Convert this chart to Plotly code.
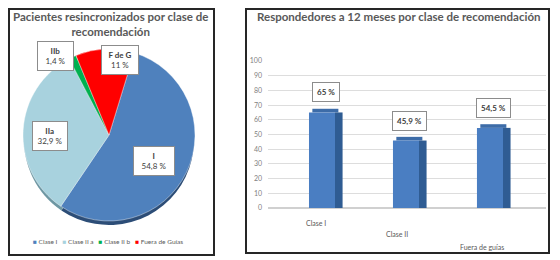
import plotly.graph_objects as go

# ---- data ----
pie_labels = ["Clase I", "Clase II a", "Clase II b", "Fuera de Guías"]
pie_values = [54.8, 32.9, 1.4, 11]
pie_short = ["I", "IIa", "IIb", "F de G"]
pie_text = ["54,8 %", "32,9 %", "1,4 %", "11 %"]
pie_colors = ["#4F81BD", "#A8D2DE", "#00B050", "#FF0000"]
pie_shadow_colors = ["#2C4D77", "#6E97A3", "#00703A", "#A00000"]

bar_cats = ["Clase I", "Clase II", "Fuera de guías"]
bar_values = [65, 45.9, 54.5]
bar_text = ["65 %", "45,9 %", "54,5 %"]
y_ticks = [0, 10, 20, 30, 40, 50, 60, 70, 80, 90, 100]

# page has an 8px body margin: figure occupies the remaining area
OFF = 8
W, H = 560 - OFF, 260 - OFF
FONT = "Lato"
GRAY = "#595959"

def px(x):
    return (x - OFF) / W

def py(y):
    return 1 - (y - OFF) / H

fig = go.Figure()

# pie rim (3D look) behind the pie
fig.add_trace(go.Pie(
    labels=pie_labels, values=pie_values, sort=False, direction="clockwise",
    rotation=17, textinfo="none", hoverinfo="skip",
    marker=dict(colors=pie_shadow_colors, line=dict(width=0)),
    domain=dict(x=[px(24), px(194)], y=[py(225), py(55)]),
    showlegend=False,
))
# pie
fig.add_trace(go.Pie(
    labels=pie_labels, values=pie_values, sort=False, direction="clockwise",
    rotation=17, textinfo="none", hoverinfo="label+percent",
    marker=dict(colors=pie_colors, line=dict(color="#FFFFFF", width=0.4)),
    domain=dict(x=[px(23), px(195)], y=[py(221), py(49)]),
    showlegend=False,
))

# bars: top face (thin cap), front face and side face
TOP_DEPTH = 2.5
fig.add_trace(go.Bar(
    x=bar_cats, y=[TOP_DEPTH] * len(bar_values), base=bar_values,
    width=0.31, offset=-0.115,
    marker=dict(color="#3D6CA8", line=dict(width=0)),
    showlegend=False, xaxis="x", yaxis="y", hoverinfo="skip",
))
fig.add_trace(go.Bar(
    x=bar_cats, y=bar_values, width=0.31, offset=-0.155,
    marker=dict(color="#4A7EC2", line=dict(width=0)),
    showlegend=False, xaxis="x", yaxis="y",
))
fig.add_trace(go.Bar(
    x=bar_cats, y=bar_values, width=0.09, offset=0.155,
    marker=dict(color="#2F5C93", line=dict(width=0)),
    showlegend=False, xaxis="x", yaxis="y", hoverinfo="skip",
))

annotations = []
# pie label boxes (paper positions)
pie_label_pos = {"I": (154, 161), "IIa": (50, 136), "IIb": (55, 56), "F de G": (120, 60)}
pie_box_w = {"I": 42, "IIa": 36, "IIb": 37, "F de G": 38}
for s, t in zip(pie_short, pie_text):
    cx, cy = pie_label_pos[s]
    annotations.append(dict(
        x=px(cx), y=py(cy), xref="paper", yref="paper", showarrow=False,
        text=f"<b>{s}</b><br>{t}", align="center",
        font=dict(family=FONT, size=8, color="#404040"),
        bgcolor="#FFFFFF", bordercolor="#8C8C8C", borderwidth=1, borderpad=4,
        width=pie_box_w[s] - 10, xanchor="center", yanchor="middle",
    ))

# legend built as text with coloured markers
legend_text = "   ".join(
    f'<span style="color:{c}">■</span> {l}' for l, c in zip(pie_labels, pie_colors)
)
annotations.append(dict(
    x=px(108), y=py(241), xref="paper", yref="paper", showarrow=False,
    text=legend_text, font=dict(family=FONT, size=6.5, color=GRAY),
    xanchor="center", yanchor="middle",
))

# bar value boxes
for c, v, t in zip(bar_cats, bar_values, bar_text):
    annotations.append(dict(
        x=c, y=v, xref="x", yref="y", showarrow=False, text=f"<b>{t}</b>",
        font=dict(family=FONT, size=8, color="#404040"),
        bgcolor="#FFFFFF", bordercolor="#8C8C8C", borderwidth=1, borderpad=4,
        xanchor="center", yanchor="bottom", yshift=10, xshift=4,
    ))

# staggered category labels (perspective look)
cat_y = [223, 234, 247]
cat_shift = [-6, -9, -8]
for c, yy, sh in zip(bar_cats, cat_y, cat_shift):
    annotations.append(dict(
        x=c, y=py(yy), xref="x", yref="paper", showarrow=False, text=c,
        font=dict(family=FONT, size=7, color=GRAY), xanchor="center",
        yanchor="middle", xshift=sh,
    ))

# titles
annotations.append(dict(
    x=px(110), y=py(24), xref="paper", yref="paper", showarrow=False,
    text="<b>Pacientes resincronizados por clase de<br>recomendación</b>",
    font=dict(family=FONT, size=11.5, color=GRAY), align="center",
    xanchor="center", yanchor="middle",
))
annotations.append(dict(
    x=px(398), y=py(17), xref="paper", yref="paper", showarrow=False,
    text="<b>Respondedores a 12 meses por clase de recomendación</b>",
    font=dict(family=FONT, size=11.5, color=GRAY),
    xanchor="center", yanchor="middle",
))

shapes = [
    dict(type="rect", xref="paper", yref="paper", x0=px(9), x1=px(214),
         y0=py(255), y1=py(9), line=dict(color="#262626", width=2)),
    dict(type="rect", xref="paper", yref="paper", x0=px(246), x1=px(549),
         y0=py(253), y1=py(9), line=dict(color="#262626", width=2)),
]

fig.update_layout(
    width=W, height=H, margin=dict(l=0, r=0, t=0, b=0, autoexpand=False),
    paper_bgcolor="#FFFFFF", plot_bgcolor="#FFFFFF",
    barmode="overlay",
    font=dict(family=FONT, color=GRAY),
    xaxis=dict(domain=[px(268), px(546)], range=[-0.643, 2.667],
               showticklabels=False, showgrid=False, zeroline=False,
               showline=False, fixedrange=True),
    yaxis=dict(domain=[py(208), py(61)], range=[0, 100], tickvals=y_ticks,
               tickfont=dict(family=FONT, size=7, color="#7F7F7F"),
               showgrid=True, gridcolor="#DDDDDD", gridwidth=1,
               zeroline=True, zerolinecolor="#D0D0D0", showline=False,
               ticklabelstandoff=5, fixedrange=True),
    annotations=annotations,
    shapes=shapes,
    showlegend=False,
)

fig.write_html("out.html")
